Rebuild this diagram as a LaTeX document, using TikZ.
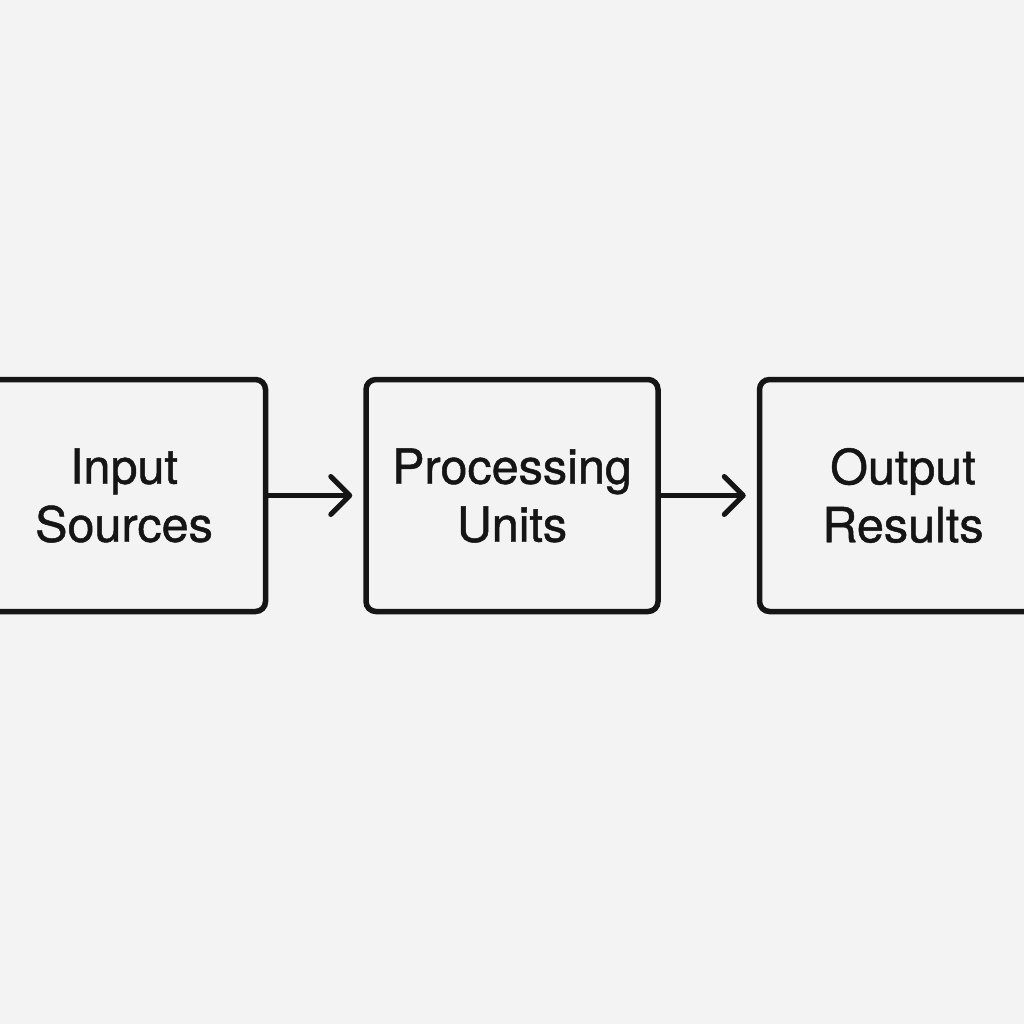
\documentclass[tikz,border=0pt]{standalone}
\usepackage{fontspec}
\setmainfont{TeX Gyre Heros}
\newfontfamily\stagefont[FakeBold=1.0]{TeX Gyre Heros}
\usetikzlibrary{arrows.meta}
\definecolor{bg}{HTML}{F3F3F3}
\definecolor{ink}{HTML}{151515}
\begin{document}
\begin{tikzpicture}[x=1pt,y=-1pt,
  stage/.style={draw=ink, line width=5.5pt, rounded corners=10pt,
    minimum width=#1, minimum height=232pt, inner sep=0pt,
    align=center, text=ink, font=\stagefont\fontsize{48.5}{58}\selectfont},
  flow/.style={draw=ink, line width=5pt,
    -{Straight Barb[length=19pt,width=38pt,round]}, shorten >=11pt}]
\fill[bg] (0,0) rectangle (1024,1024);
\useasboundingbox (0,0) rectangle (1024,1024);
% three stages of the pipeline
\node[stage=283pt] (input) at (124,495.5) {Input\\Sources};
\node[stage=292pt] (proc) at (512,495.5) {Processing\\Units};
\node[stage=287pt] (output) at (903,495.5) {Output\\Results};
% connectors
\draw[flow] (input.east) -- (proc.west);
\draw[flow] (proc.east) -- (output.west);
\end{tikzpicture}
\end{document}
